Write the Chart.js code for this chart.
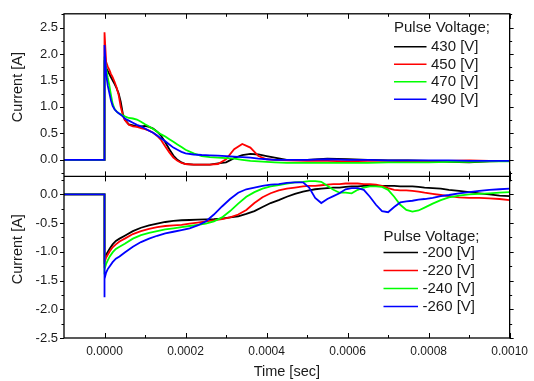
<!DOCTYPE html>
<html>
<head>
<meta charset="utf-8">
<script src="https://cdn.jsdelivr.net/npm/chart.js@4"></script>
<style>
  html, body { margin: 0; padding: 0; background: #fff; }
  #chart { display: block; }
</style>
</head>
<body>
<canvas id="chart" width="534" height="381"></canvas>
<script>
// time grids in microseconds (converted to seconds when the datasets are built)
const tTopUs = [-100, 0, 0, 4, 8, 12, 16, 20, 25, 30, 35, 40, 45, 50, 60, 70, 80, 90, 100, 110, 120, 130, 140, 150, 160, 170, 180, 190, 200, 220, 240, 260, 280, 300, 320, 340, 360, 380, 400, 420, 450, 500, 550, 600, 650, 700, 750, 800, 850, 900, 950, 1000];
const tBotUs = [-100, 0, 0, 0, 4, 8, 13, 20, 28, 37, 50, 70, 90, 110, 130, 150, 170, 190, 210, 230, 250, 270, 290, 310, 330, 350, 370, 390, 410, 430, 450, 470, 490, 505, 520, 535, 550, 565, 580, 595, 610, 625, 640, 655, 670, 685, 700, 715, 730, 745, 760, 775, 790, 810, 830, 850, 875, 900, 925, 950, 975, 1000];

// positive pulses (top panel), current in A
const top430 = [0, 0, 1.81, 1.74, 1.68, 1.62, 1.56, 1.50, 1.43, 1.35, 1.25, 1.10, 0.88, 0.76, 0.67, 0.65, 0.63, 0.63, 0.64, 0.62, 0.59, 0.53, 0.45, 0.33, 0.20, 0.08, 0.0, -0.05, -0.08, -0.09, -0.09, -0.09, -0.07, -0.05, 0.03, 0.09, 0.11, 0.10, 0.07, 0.04, 0.0, 0.0, 0.02, 0.01, 0.0, -0.01, -0.01, -0.02, -0.04, -0.05, -0.03, -0.02];
const top450 = [0, 0, 2.41, 1.85, 1.76, 1.70, 1.62, 1.56, 1.47, 1.36, 1.22, 1.00, 0.85, 0.75, 0.66, 0.63, 0.62, 0.60, 0.58, 0.55, 0.51, 0.45, 0.37, 0.25, 0.14, 0.04, -0.02, -0.06, -0.08, -0.09, -0.09, -0.09, -0.08, 0.01, 0.20, 0.30, 0.23, 0.07, 0.01, 0.0, -0.01, -0.02, -0.02, -0.03, -0.02, -0.02, -0.03, -0.02, -0.02, -0.01, -0.02, -0.02];
const top470 = [0, 0, 1.95, 1.72, 1.55, 1.40, 1.22, 1.06, 0.96, 0.91, 0.88, 0.86, 0.84, 0.82, 0.79, 0.78, 0.76, 0.72, 0.67, 0.63, 0.58, 0.53, 0.48, 0.44, 0.39, 0.34, 0.29, 0.24, 0.19, 0.12, 0.07, 0.05, 0.04, 0.03, 0.02, 0.0, -0.02, -0.03, -0.04, -0.05, -0.06, -0.06, -0.06, -0.06, -0.06, -0.05, -0.05, -0.05, -0.04, -0.04, -0.03, -0.03];
const top490 = [0, 0, 2.17, 1.62, 1.40, 1.26, 1.12, 1.02, 0.95, 0.91, 0.88, 0.85, 0.82, 0.78, 0.74, 0.70, 0.66, 0.63, 0.59, 0.55, 0.51, 0.46, 0.40, 0.35, 0.29, 0.23, 0.19, 0.15, 0.12, 0.10, 0.09, 0.085, 0.08, 0.07, 0.06, 0.05, 0.04, 0.02, 0.01, 0.0, 0.0, 0.0, 0.01, 0.0, 0.0, -0.01, -0.01, -0.01, -0.01, -0.02, -0.02, -0.02];

// negative pulses (bottom panel)
const bot200 = [0, 0, -1.15, -1.13, -1.05, -1.00, -0.94, -0.87, -0.81, -0.77, -0.72, -0.64, -0.58, -0.54, -0.51, -0.48, -0.46, -0.45, -0.445, -0.44, -0.435, -0.43, -0.42, -0.40, -0.38, -0.34, -0.29, -0.22, -0.15, -0.10, -0.04, 0.01, 0.05, 0.07, 0.09, 0.10, 0.11, 0.12, 0.12, 0.13, 0.14, 0.14, 0.15, 0.15, 0.15, 0.15, 0.15, 0.15, 0.14, 0.14, 0.14, 0.13, 0.12, 0.11, 0.10, 0.08, 0.06, 0.04, 0.02, 0.0, -0.02, -0.03];
const bot220 = [0, 0, -1.22, -1.19, -1.10, -1.05, -0.99, -0.92, -0.87, -0.82, -0.77, -0.69, -0.64, -0.60, -0.57, -0.55, -0.54, -0.53, -0.51, -0.49, -0.47, -0.45, -0.43, -0.40, -0.35, -0.27, -0.15, -0.05, 0.02, 0.07, 0.10, 0.12, 0.14, 0.15, 0.15, 0.16, 0.17, 0.18, 0.18, 0.19, 0.19, 0.19, 0.18, 0.18, 0.17, 0.15, 0.11, 0.08, 0.07, 0.07, 0.06, 0.05, 0.03, 0.01, -0.01, -0.03, -0.05, -0.06, -0.06, -0.07, -0.08, -0.10];
const bot240 = [0, 0, -1.33, -1.30, -1.21, -1.15, -1.08, -1.01, -0.95, -0.91, -0.86, -0.77, -0.71, -0.67, -0.64, -0.61, -0.59, -0.57, -0.55, -0.53, -0.51, -0.47, -0.40, -0.29, -0.16, -0.04, 0.04, 0.10, 0.14, 0.16, 0.19, 0.21, 0.22, 0.23, 0.23, 0.22, 0.15, 0.08, 0.03, 0.03, 0.02, 0.08, 0.12, 0.14, 0.14, 0.13, 0.08, -0.04, -0.18, -0.27, -0.30, -0.28, -0.23, -0.16, -0.10, -0.05, -0.02, 0.0, 0.01, 0.02, 0.03, 0.04];
const bot260 = [0, 0, -1.79, -1.47, -1.36, -1.30, -1.25, -1.18, -1.12, -1.08, -1.01, -0.91, -0.83, -0.77, -0.72, -0.68, -0.65, -0.62, -0.59, -0.54, -0.47, -0.35, -0.21, -0.08, 0.03, 0.09, 0.12, 0.15, 0.17, 0.18, 0.20, 0.21, 0.21, 0.12, -0.06, -0.15, -0.08, -0.03, 0.02, 0.09, 0.11, 0.11, 0.08, -0.04, -0.18, -0.29, -0.31, -0.22, -0.14, -0.12, -0.11, -0.09, -0.08, -0.06, -0.03, -0.01, 0.02, 0.04, 0.06, 0.08, 0.09, 0.10];

const topLabels = ['430 [V]', '450 [V]', '470 [V]', '490 [V]'];
const botLabels = ['-200 [V]', '-220 [V]', '-240 [V]', '-260 [V]'];
const colors = ['#000000', '#ff0000', '#00ff00', '#0000ff'];

const xTicks = [0, 0.0002, 0.0004, 0.0006, 0.0008, 0.0010];
const yTopTicks = [0, 0.5, 1.0, 1.5, 2.0, 2.5];
const yBotTicks = [-2.5, -2.0, -1.5, -1.0, -0.5, 0];

const FONT = '"Liberation Sans", Arial, sans-serif';
const TEXT = '#1a1a1a';

function series(times, vals) {
    return times.map((t, i) => ({ x: t * 1e-6, y: vals[i] }));
}

// order: later series drawn on top (blue last), like the original plot
const datasets = [];
[top430, top450, top470, top490].forEach((v, i) => {
    datasets.push({ label: topLabels[i], panel: 'top', data: series(tTopUs, v),
        borderColor: colors[i], yAxisID: 'yTop', order: 3 - i });
});
[bot200, bot220, bot240, bot260].forEach((v, i) => {
    datasets.push({ label: botLabels[i], panel: 'bot', data: series(tBotUs, v),
        borderColor: colors[i], yAxisID: 'yBot', order: 3 - i });
});

// minor tick positions: halfway between majors, plus one step beyond each end
function minorsOf(ticks, min, max) {
    const step = ticks[1] - ticks[0];
    const out = [];
    for (let i = -1; i < ticks.length; i++) {
        const v = ticks[0] + step * (i + 0.5);
        if (v > min + 1e-9 && v < max - 1e-9) out.push(v);
    }
    return out;
}

const framePlugin = {
    id: 'frame',
    afterDraw(chart) {
        const { ctx, chartArea: a, scales } = chart;
        const sx = scales.x, yt = scales.yTop, yb = scales.yBot;
        const mid = yt.bottom;
        ctx.save();
        ctx.strokeStyle = '#000';
        ctx.lineWidth = 1.3;
        ctx.strokeRect(a.left, a.top, a.right - a.left, a.bottom - a.top);
        ctx.beginPath();
        ctx.moveTo(a.left, mid); ctx.lineTo(a.right, mid);
        ctx.stroke();

        ctx.lineWidth = 1;
        const seg = (x1, y1, x2, y2) => { ctx.beginPath(); ctx.moveTo(x1, y1); ctx.lineTo(x2, y2); ctx.stroke(); };

        // x ticks, pointing inward at top, bottom and on the shared middle line
        const xm = minorsOf(xTicks, sx.min, sx.max);
        const xAll = xTicks.map(v => [v, 5]).concat(xm.map(v => [v, 3]));
        xAll.forEach(([v, len]) => {
            const px = Math.round(sx.getPixelForValue(v)) + 0.5;
            seg(px, a.top, px, a.top + len);
            seg(px, a.bottom, px, a.bottom - len);
            seg(px, mid - len, px, mid + len);
        });

        // y ticks, pointing outward on both sides
        [[yt, yTopTicks], [yb, yBotTicks]].forEach(([s, ticks]) => {
            const ym = minorsOf(ticks, s.min, s.max);
            ticks.map(v => [v, 4]).concat(ym.map(v => [v, 2.5])).forEach(([v, len]) => {
                const py = Math.round(s.getPixelForValue(v)) + 0.5;
                seg(a.left - len, py, a.left, py);
                seg(a.right, py, a.right + len, py);
            });
        });

        // axis titles
        ctx.fillStyle = TEXT;
        ctx.font = '14.5px ' + FONT;
        ctx.textAlign = 'center';
        ctx.textBaseline = 'middle';
        [yt, yb].forEach(s => {
            ctx.save();
            ctx.translate(17.5, (s.top + s.bottom) / 2 - 8);
            ctx.rotate(-Math.PI / 2);
            ctx.fillText('Current [A]', 0, 0);
            ctx.restore();
        });
        ctx.fillText('Time [sec]', (a.left + a.right) / 2, 372);

        // legends
        const drawLegend = (panel, x0, yTitle, yFirst, gap, lineLen) => {
            ctx.font = '15px ' + FONT;
            ctx.textAlign = 'left';
            ctx.textBaseline = 'middle';
            ctx.fillStyle = TEXT;
            ctx.fillText('Pulse Voltage;', x0, yTitle);
            chart.data.datasets.filter(d => d.panel === panel).forEach((d, i) => {
                const y = yFirst + i * gap;
                ctx.strokeStyle = d.borderColor;
                ctx.lineWidth = 1.5;
                seg(x0, y, x0 + lineLen, y);
                ctx.fillStyle = TEXT;
                ctx.fillText(d.label, x0 + lineLen + 4.5, y + 0.5);
            });
        };
        drawLegend('top', 394, 28, 46.7, 17.5, 32.5);
        drawLegend('bot', 383.5, 237, 252.5, 18, 34.5);
        ctx.restore();
    }
};

new Chart(document.getElementById('chart'), {
    type: 'line',
    data: { datasets },
    options: {
        responsive: false,
        animation: false,
        parsing: true,
        layout: { padding: { top: 7, right: 18, left: 0, bottom: 0 } },
        elements: {
            point: { radius: 0 },
            line: { borderWidth: 1.8, tension: 0, fill: false }
        },
        plugins: { legend: { display: false }, tooltip: { enabled: false } },
        scales: {
            x: {
                type: 'linear', min: -0.0001, max: 0.001,
                grid: { display: false, drawTicks: false },
                border: { display: false },
                afterBuildTicks: s => { s.ticks = xTicks.map(v => ({ value: v })); },
                afterFit: s => { s.height = 43; },
                ticks: {
                    autoSkip: false, maxRotation: 0, padding: 6, color: TEXT,
                    font: { family: FONT, size: 12 },
                    callback: v => v.toFixed(4)
                }
            },
            // stacked left axes: the one declared first sits at the bottom
            yBot: {
                type: 'linear', position: 'left', stack: 'panels', stackWeight: 165,
                min: -2.5, max: 0.314,
                grid: { display: false, drawTicks: false },
                border: { display: false },
                afterBuildTicks: s => { s.ticks = yBotTicks.map(v => ({ value: v })); },
                afterFit: s => { s.width = 64; },
                ticks: { padding: 6, color: TEXT, font: { family: FONT, size: 13 }, callback: v => v.toFixed(1) }
            },
            yTop: {
                type: 'linear', position: 'left', stack: 'panels', stackWeight: 166,
                min: -0.314, max: 2.759,
                grid: { display: false, drawTicks: false },
                border: { display: false },
                afterBuildTicks: s => { s.ticks = yTopTicks.map(v => ({ value: v })); },
                afterFit: s => { s.width = 64; },
                ticks: { padding: 6, color: TEXT, font: { family: FONT, size: 13 }, callback: v => v.toFixed(1) }
            }
        }
    },
    plugins: [framePlugin]
});
</script>
</body>
</html>
